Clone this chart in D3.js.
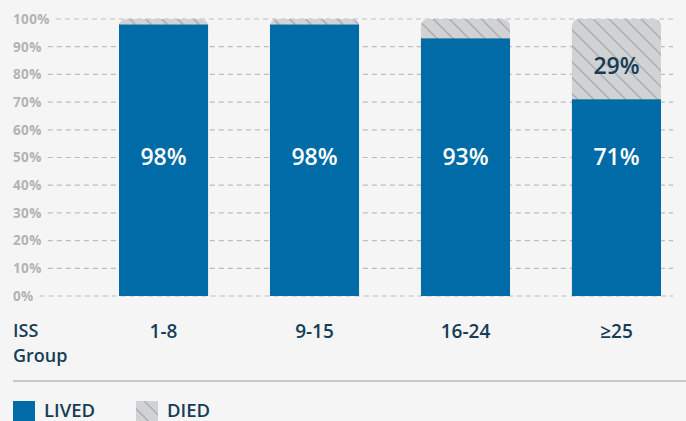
<!DOCTYPE html>
<html>
<head>
<meta charset="utf-8">
<script src="https://cdn.jsdelivr.net/npm/d3@7"></script>
<style>
  body { margin: 0; background: #f5f5f5; }
  svg { display: block; font-family: "Open Sans", "DejaVu Sans", sans-serif; }
</style>
</head>
<body>
<svg id="chart"></svg>
<script>
// data
const groups = ["1-8", "9-15", "16-24", "\u226525"];
const lived = [98, 98, 93, 71];
const died = [2, 2, 7, 29];
const yTicks = [0, 10, 20, 30, 40, 50, 60, 70, 80, 90, 100];

const width = 686, height = 421;
const blue = "#006ba6", navy = "#173d56", grey = "#d1d2d4";

const svg = d3.select("#chart").attr("width", width).attr("height", height);

// hatch for the "died" part
const pat = svg.append("defs").append("pattern")
    .attr("id", "hatch")
    .attr("patternUnits", "userSpaceOnUse")
    .attr("width", 11.3).attr("height", 11.3)
    .attr("patternTransform", "rotate(45)");
pat.append("rect").attr("width", 11.3).attr("height", 11.3).attr("fill", grey);
pat.append("rect").attr("y", 0).attr("width", 11.3).attr("height", 1.4).attr("fill", "#a9aaad");

const y = d3.scaleLinear().domain([0, 100]).range([296, 19]);
const x = d3.scaleBand().domain(groups).range([119, 661]).paddingInner(0.41).paddingOuter(0);

// y axis labels + dashed grid
const ticks = svg.append("g");
yTicks.forEach(t => {
  const lbl = ticks.append("text")
      .attr("x", 13).attr("y", y(t)).attr("dy", "0.36em")
      .attr("fill", "#b3b3b3").attr("font-size", 13.5).attr("font-weight", 700)
      .attr("letter-spacing", 0.4)
      .text(t + "%");
  const w = lbl.node().getComputedTextLength();
  ticks.append("line")
      .attr("x1", 13 + w + 6).attr("x2", 673)
      .attr("y1", y(t)).attr("y2", y(t))
      .attr("stroke", "#bdbdbd").attr("stroke-width", 1.2)
      .attr("stroke-dasharray", "5,4");
});

// rounded top rect path
function topRounded(x0, y0, w, h, r) {
  return `M${x0},${y0 + h}V${y0 + r}Q${x0},${y0} ${x0 + r},${y0}H${x0 + w - r}Q${x0 + w},${y0} ${x0 + w},${y0 + r}V${y0 + h}Z`;
}

const bars = svg.append("g");
groups.forEach((g, i) => {
  const x0 = x(g), bw = x.bandwidth();
  bars.append("path")
      .attr("d", topRounded(x0, y(lived[i] + died[i]), bw, y(lived[i]) - y(lived[i] + died[i]) + 1, 8))
      .attr("fill", "url(#hatch)");
  bars.append("rect")
      .attr("x", x0).attr("y", y(lived[i]))
      .attr("width", bw).attr("height", y(0) - y(lived[i]))
      .attr("fill", blue);
  bars.append("text")
      .attr("x", x0 + bw / 2).attr("y", 165)
      .attr("text-anchor", "middle").attr("fill", "#fff")
      .attr("font-size", 23).attr("font-weight", 600)
      .text(lived[i] + "%");
  if (died[i] > 10) {
    bars.append("text")
        .attr("x", x0 + bw / 2).attr("y", 73.5)
        .attr("text-anchor", "middle").attr("fill", navy)
        .attr("font-size", 23).attr("font-weight", 600)
        .text(died[i] + "%");
  }
  // category label
  svg.append("text")
      .attr("x", x0 + bw / 2).attr("y", 337.5)
      .attr("text-anchor", "middle").attr("fill", navy)
      .attr("font-size", 19).attr("font-weight", 600)
      .text(g);
});

// axis title, two lines
svg.append("text").attr("x", 13).attr("y", 337)
    .attr("fill", navy).attr("font-size", 18).attr("font-weight", 600).text("ISS");
svg.append("text").attr("x", 13).attr("y", 362)
    .attr("fill", navy).attr("font-size", 18).attr("font-weight", 600).text("Group");

// separator
svg.append("line").attr("x1", 13).attr("x2", 686).attr("y1", 381).attr("y2", 381)
    .attr("stroke", "#c8c8c8").attr("stroke-width", 2);

// legend
const legend = [{ name: "LIVED", fill: blue, x: 13 }, { name: "DIED", fill: "url(#hatch)", x: 136 }];
legend.forEach(d => {
  svg.append("rect").attr("x", d.x).attr("y", 401).attr("width", 22).attr("height", 22).attr("fill", d.fill);
  svg.append("text").attr("x", d.x + 31).attr("y", 417)
      .attr("fill", navy).attr("font-size", 18.5).attr("font-weight", 600).text(d.name);
});
</script>
</body>
</html>
